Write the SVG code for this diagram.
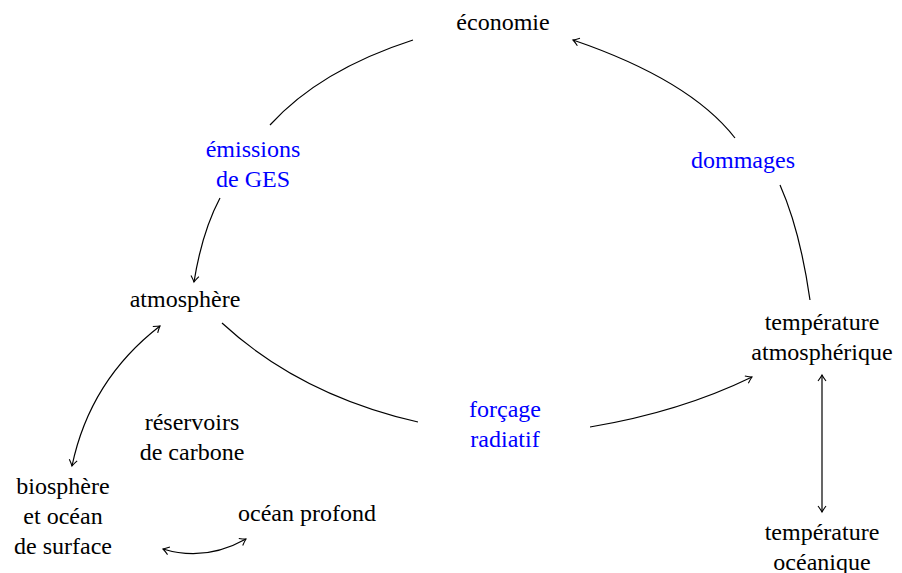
<svg xmlns="http://www.w3.org/2000/svg" width="902" height="573" viewBox="0 0 902 573">
<style>
text{font-family:"Liberation Serif","DejaVu Serif",serif;font-size:24px;fill:#000;text-anchor:middle}
.b{fill:#0000ff}
.c{fill:none;stroke:#000;stroke-width:1.2}
</style>
<defs>
<marker id="ah" viewBox="-8 -5 10 10" markerWidth="10" markerHeight="10" refX="0" refY="0" orient="auto-start-reverse" markerUnits="userSpaceOnUse">
<path d="M-6,-4 Q-2,-1 0,0 Q-2,1 -6,4" fill="none" stroke="#000" stroke-width="1.1"/>
</marker>
</defs>
<rect width="902" height="573" fill="#fff"/>
<g id="connectors">
<path class="c" d="M413,40 Q320,70 270,125"/>
<path class="c" d="M220,198 Q202,232 194,282" marker-end="url(#ah)"/>
<path class="c" d="M222,323 Q300,395 418,422"/>
<path class="c" d="M590,427 Q680,412 752,377" marker-end="url(#ah)"/>
<path class="c" d="M810,300 Q800,230 780,185"/>
<path class="c" d="M735,138 Q690,80 573,40" marker-end="url(#ah)"/>
<path class="c" d="M160,326 Q90,380 72,466" marker-start="url(#ah)" marker-end="url(#ah)"/>
<path class="c" d="M822,375 L822,512" marker-start="url(#ah)" marker-end="url(#ah)"/>
<path class="c" d="M246,539 Q205,562 163,549" marker-start="url(#ah)" marker-end="url(#ah)"/>
</g>
<g id="economie"><text x="503" y="30">économie</text></g>
<g id="emissions"><text class="b" x="253" y="157">émissions</text><text class="b" x="253" y="187">de GES</text></g>
<g id="dommages"><text class="b" x="743" y="168">dommages</text></g>
<g id="atmosphere"><text x="185" y="307">atmosphère</text></g>
<g id="temp-atm"><text x="822" y="330">température</text><text x="822" y="360">atmosphérique</text></g>
<g id="forcage"><text class="b" x="505" y="417">forçage</text><text class="b" x="505" y="447">radiatif</text></g>
<g id="reservoirs"><text x="192" y="430">réservoirs</text><text x="192" y="460">de carbone</text></g>
<g id="biosphere"><text x="63" y="494">biosphère</text><text x="63" y="524">et océan</text><text x="63" y="554">de surface</text></g>
<g id="ocean-profond"><text x="307" y="521">océan profond</text></g>
<g id="temp-ocean"><text x="822" y="540">température</text><text x="822" y="570">océanique</text></g>
</svg>
